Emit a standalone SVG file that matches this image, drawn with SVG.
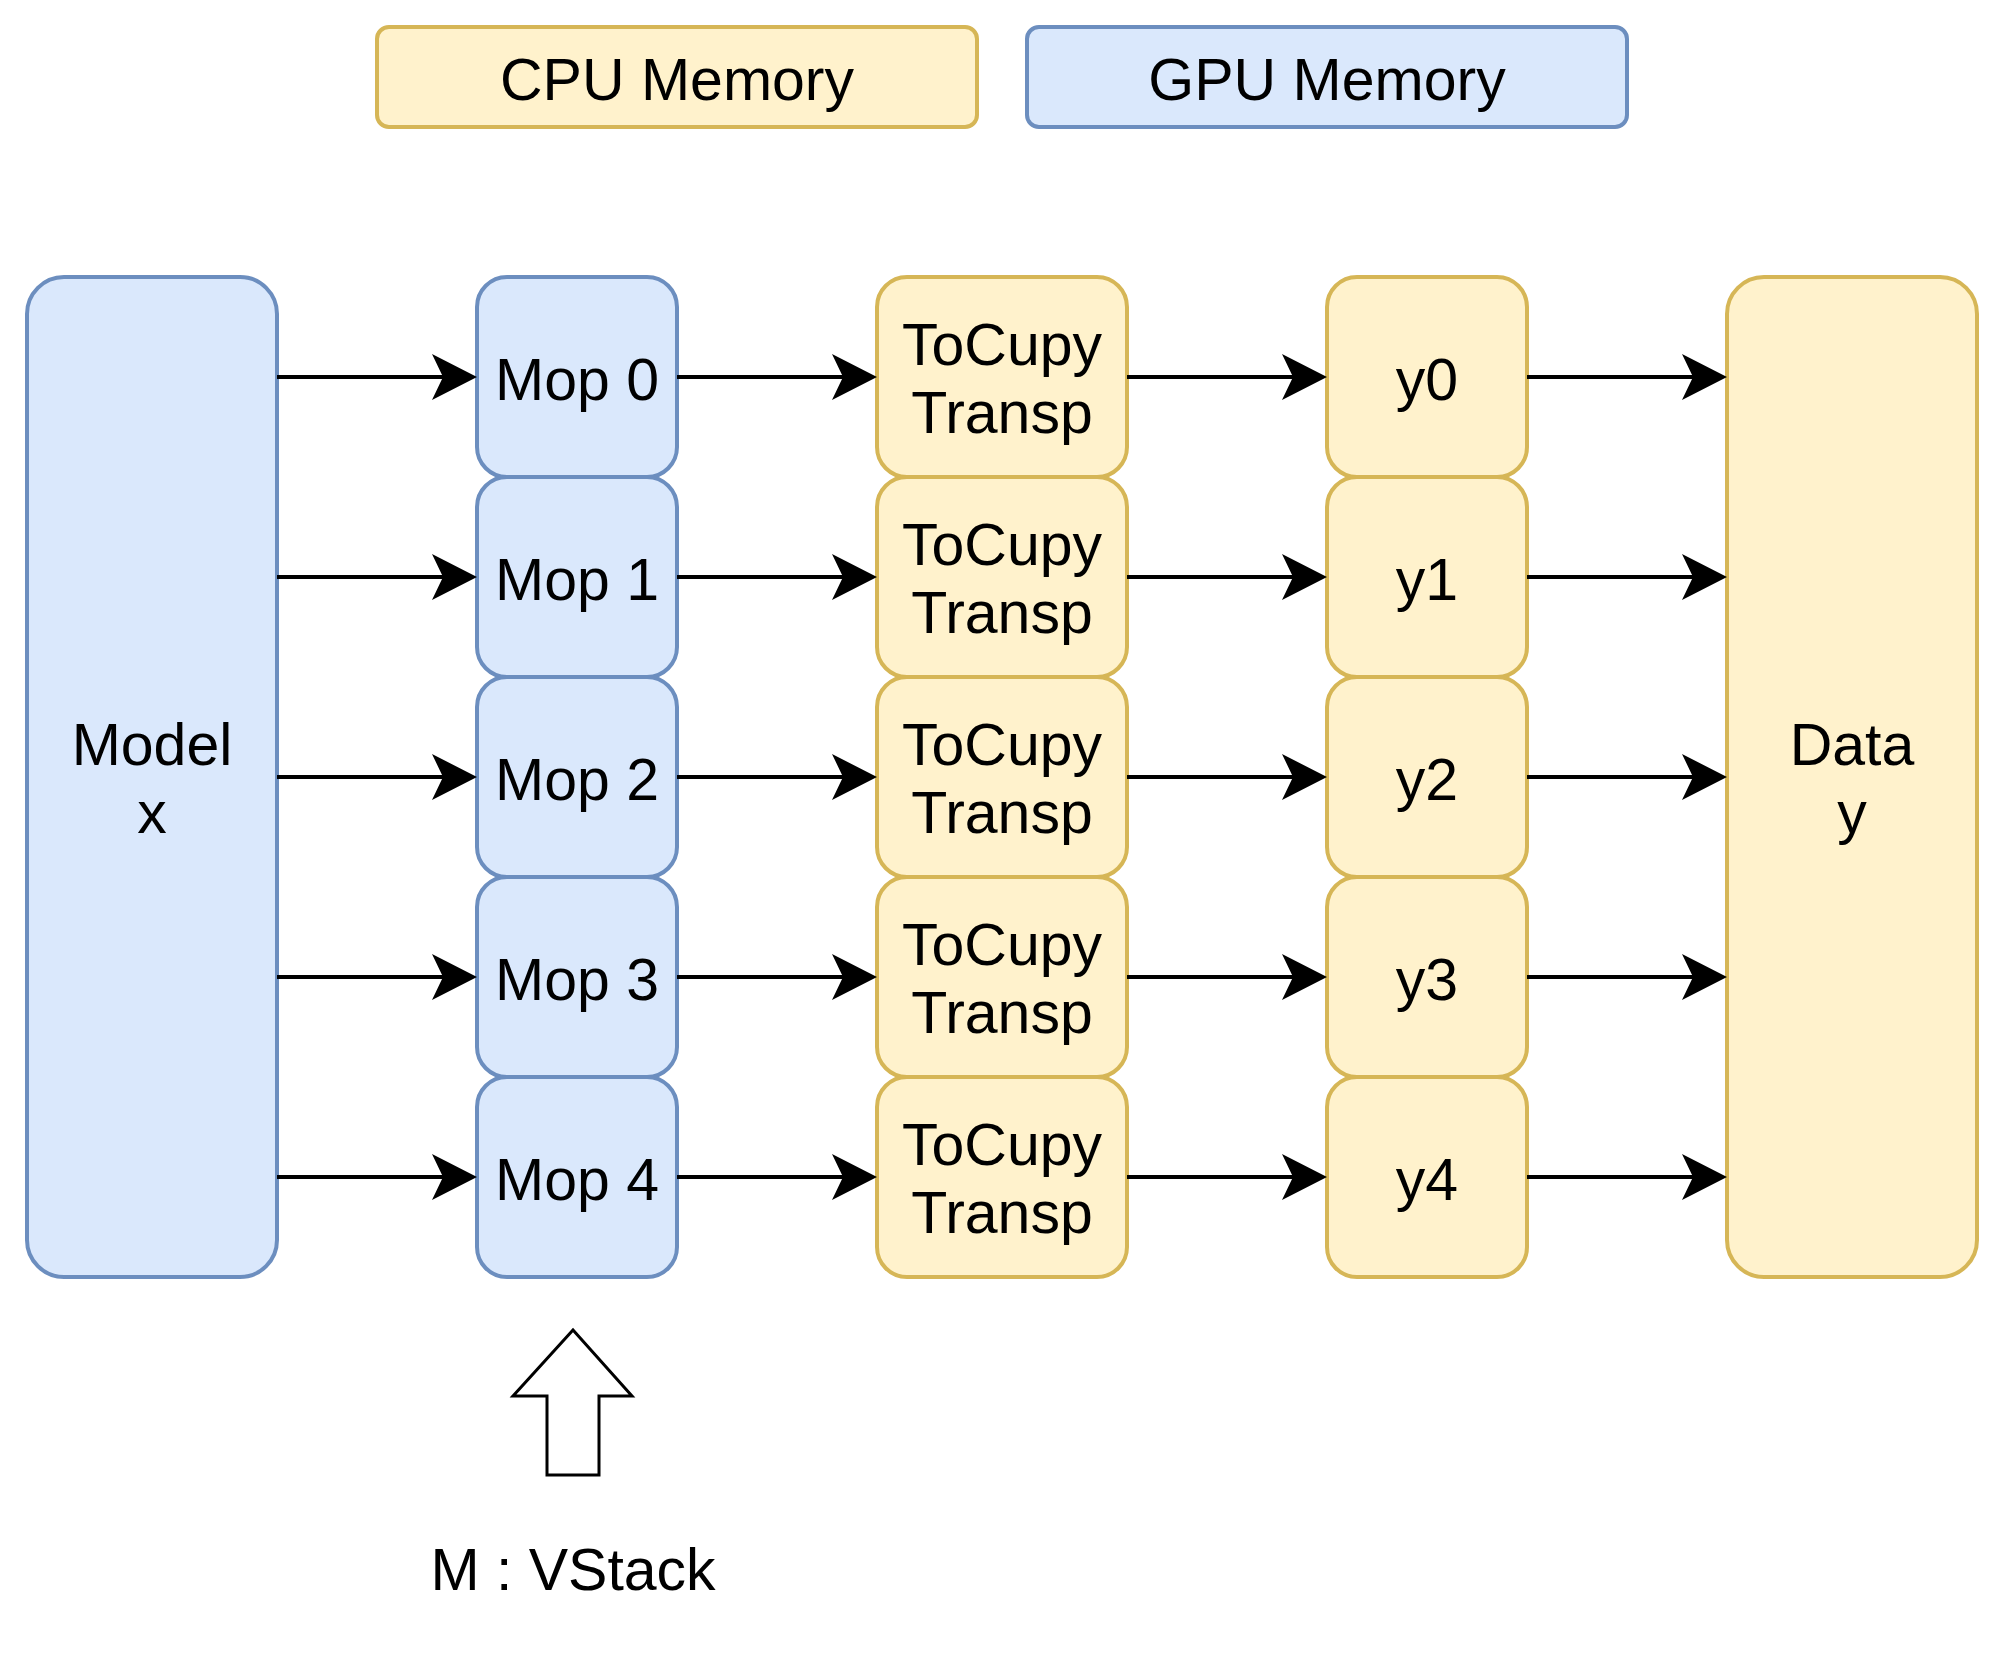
<svg xmlns="http://www.w3.org/2000/svg" width="2005" height="1670" viewBox="0 0 2005 1670">
<defs>
<style>
.blue{fill:#dae8fc;stroke:#6c8ebf;stroke-width:4}
.yel{fill:#fff2cc;stroke:#d6b656;stroke-width:4}
.t{font-family:"Liberation Sans",Arial,Helvetica,sans-serif;font-size:59px;fill:#000;text-anchor:middle}
.edge{stroke:#000;stroke-width:4;fill:none}
</style>
<marker id="arr" markerUnits="userSpaceOnUse" markerWidth="46" markerHeight="46" refX="11" refY="23" orient="auto" overflow="visible">
<path d="M0,0 L45,23 L0,46 L11,23 Z" fill="#000"/>
</marker>
</defs>
<rect width="2005" height="1670" fill="#fff"/>
<g id="cpu-memory"><rect class="yel" x="377" y="27" width="600" height="100" rx="12"/><text class="t" x="677" y="100">CPU Memory</text></g>
<g id="gpu-memory"><rect class="blue" x="1027" y="27" width="600" height="100" rx="12"/><text class="t" x="1327" y="100">GPU Memory</text></g>
<g id="model"><rect class="blue" x="27" y="277" width="250" height="1000" rx="37"/><text class="t" x="152" y="765">Model</text><text class="t" x="152" y="833">x</text></g>
<g id="data"><rect class="yel" x="1727" y="277" width="250" height="1000" rx="37"/><text class="t" x="1852" y="765">Data</text><text class="t" x="1852" y="833">y</text></g>
<g id="mop0"><rect class="blue" x="477" y="277" width="200" height="200" rx="30"/><text class="t" x="577" y="400">Mop 0</text></g>
<g id="mop1"><rect class="blue" x="477" y="477" width="200" height="200" rx="30"/><text class="t" x="577" y="600">Mop 1</text></g>
<g id="mop2"><rect class="blue" x="477" y="677" width="200" height="200" rx="30"/><text class="t" x="577" y="800">Mop 2</text></g>
<g id="mop3"><rect class="blue" x="477" y="877" width="200" height="200" rx="30"/><text class="t" x="577" y="1000">Mop 3</text></g>
<g id="mop4"><rect class="blue" x="477" y="1077" width="200" height="200" rx="30"/><text class="t" x="577" y="1200">Mop 4</text></g>
<g id="tocupy0"><rect class="yel" x="877" y="277" width="250" height="200" rx="30"/><text class="t" x="1002" y="365">ToCupy</text><text class="t" x="1002" y="433">Transp</text></g>
<g id="tocupy1"><rect class="yel" x="877" y="477" width="250" height="200" rx="30"/><text class="t" x="1002" y="565">ToCupy</text><text class="t" x="1002" y="633">Transp</text></g>
<g id="tocupy2"><rect class="yel" x="877" y="677" width="250" height="200" rx="30"/><text class="t" x="1002" y="765">ToCupy</text><text class="t" x="1002" y="833">Transp</text></g>
<g id="tocupy3"><rect class="yel" x="877" y="877" width="250" height="200" rx="30"/><text class="t" x="1002" y="965">ToCupy</text><text class="t" x="1002" y="1033">Transp</text></g>
<g id="tocupy4"><rect class="yel" x="877" y="1077" width="250" height="200" rx="30"/><text class="t" x="1002" y="1165">ToCupy</text><text class="t" x="1002" y="1233">Transp</text></g>
<g id="y0"><rect class="yel" x="1327" y="277" width="200" height="200" rx="30"/><text class="t" x="1427" y="400">y0</text></g>
<g id="y1"><rect class="yel" x="1327" y="477" width="200" height="200" rx="30"/><text class="t" x="1427" y="600">y1</text></g>
<g id="y2"><rect class="yel" x="1327" y="677" width="200" height="200" rx="30"/><text class="t" x="1427" y="800">y2</text></g>
<g id="y3"><rect class="yel" x="1327" y="877" width="200" height="200" rx="30"/><text class="t" x="1427" y="1000">y3</text></g>
<g id="y4"><rect class="yel" x="1327" y="1077" width="200" height="200" rx="30"/><text class="t" x="1427" y="1200">y4</text></g>
<g id="vstack-arrow"><polygon points="573,1330 632,1396 599,1396 599,1475 547,1475 547,1396 513,1396" fill="#fff" stroke="#000" stroke-width="3"/></g>
<g id="vstack-label"><text class="t" x="573" y="1590">M : VStack</text></g>
<g id="connectors">
<path class="edge" marker-end="url(#arr)" d="M277,377 H443"/>
<path class="edge" marker-end="url(#arr)" d="M277,577 H443"/>
<path class="edge" marker-end="url(#arr)" d="M277,777 H443"/>
<path class="edge" marker-end="url(#arr)" d="M277,977 H443"/>
<path class="edge" marker-end="url(#arr)" d="M277,1177 H443"/>
<path class="edge" marker-end="url(#arr)" d="M677,377 H843"/>
<path class="edge" marker-end="url(#arr)" d="M677,577 H843"/>
<path class="edge" marker-end="url(#arr)" d="M677,777 H843"/>
<path class="edge" marker-end="url(#arr)" d="M677,977 H843"/>
<path class="edge" marker-end="url(#arr)" d="M677,1177 H843"/>
<path class="edge" marker-end="url(#arr)" d="M1127,377 H1293"/>
<path class="edge" marker-end="url(#arr)" d="M1127,577 H1293"/>
<path class="edge" marker-end="url(#arr)" d="M1127,777 H1293"/>
<path class="edge" marker-end="url(#arr)" d="M1127,977 H1293"/>
<path class="edge" marker-end="url(#arr)" d="M1127,1177 H1293"/>
<path class="edge" marker-end="url(#arr)" d="M1527,377 H1693"/>
<path class="edge" marker-end="url(#arr)" d="M1527,577 H1693"/>
<path class="edge" marker-end="url(#arr)" d="M1527,777 H1693"/>
<path class="edge" marker-end="url(#arr)" d="M1527,977 H1693"/>
<path class="edge" marker-end="url(#arr)" d="M1527,1177 H1693"/>
</g>
</svg>
